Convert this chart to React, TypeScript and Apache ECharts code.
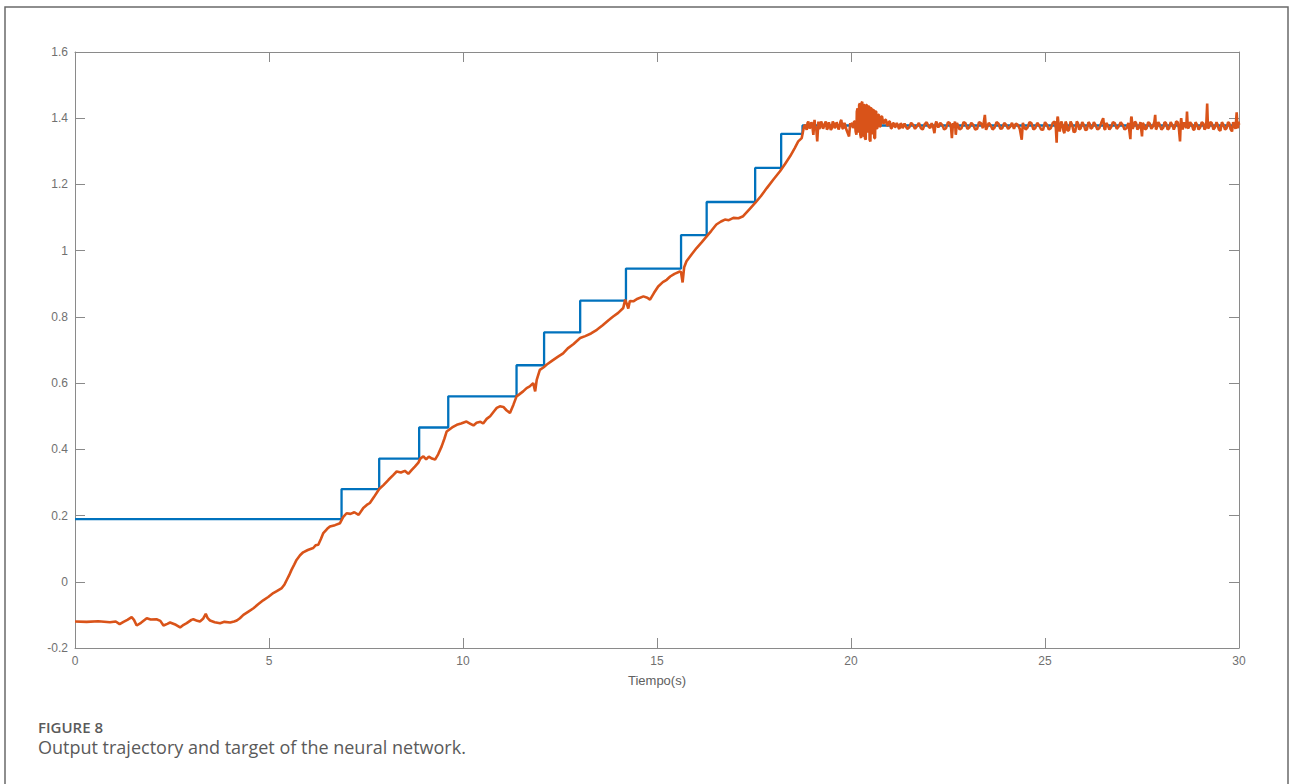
import React, { useEffect, useRef } from "react";
import * as echarts from "echarts";

// Target (blue staircase): time where each level starts, and the level value
const targetTimes = [0, 6.87, 7.84, 8.87, 9.62, 11.38, 12.09, 13.02, 14.2, 15.62, 16.28, 17.53, 18.2, 18.75, 30];
const targetValues = [0.189, 0.28, 0.372, 0.466, 0.56, 0.654, 0.753, 0.849, 0.946, 1.047, 1.147, 1.25, 1.353, 1.378, 1.378];

// Output trajectory (orange), rising part
const outputRise: [number, number][] = [
  [0, -0.12], [0.3, -0.121], [0.6, -0.119], [0.9, -0.122], [1.05, -0.12], [1.15, -0.128], [1.25, -0.121],
  [1.35, -0.115], [1.46, -0.107], [1.52, -0.115], [1.59, -0.132], [1.7, -0.124], [1.85, -0.11], [1.95, -0.114],
  [2.1, -0.113], [2.2, -0.118], [2.28, -0.132], [2.38, -0.127], [2.45, -0.123], [2.6, -0.13], [2.71, -0.138],
  [2.8, -0.13], [2.88, -0.125], [3.0, -0.115], [3.05, -0.113], [3.15, -0.118], [3.22, -0.12], [3.3, -0.112],
  [3.37, -0.097], [3.42, -0.11], [3.48, -0.117], [3.6, -0.122], [3.74, -0.125], [3.85, -0.121], [4.0, -0.123],
  [4.1, -0.12], [4.17, -0.117], [4.25, -0.11], [4.34, -0.1], [4.47, -0.09], [4.6, -0.08], [4.72, -0.068],
  [4.85, -0.056], [4.98, -0.046], [5.11, -0.034], [5.2, -0.028], [5.33, -0.019], [5.4, -0.008], [5.46, 0.006],
  [5.52, 0.02], [5.58, 0.036], [5.65, 0.052], [5.71, 0.066], [5.8, 0.08], [5.88, 0.089], [6.0, 0.096],
  [6.14, 0.102], [6.2, 0.11], [6.27, 0.112], [6.34, 0.13], [6.4, 0.147], [6.5, 0.16], [6.57, 0.167],
  [6.7, 0.171], [6.83, 0.177], [6.91, 0.195], [7.0, 0.207], [7.1, 0.205], [7.2, 0.21], [7.31, 0.202],
  [7.43, 0.223], [7.52, 0.232], [7.6, 0.238], [7.7, 0.255], [7.84, 0.28], [7.95, 0.292], [8.08, 0.308],
  [8.2, 0.322], [8.29, 0.333], [8.4, 0.33], [8.5, 0.335], [8.59, 0.326], [8.68, 0.338], [8.76, 0.348],
  [8.85, 0.36], [8.9, 0.372], [8.98, 0.379], [9.05, 0.37], [9.12, 0.378], [9.2, 0.372], [9.28, 0.369],
  [9.36, 0.385], [9.45, 0.409], [9.52, 0.432], [9.58, 0.454], [9.65, 0.46], [9.72, 0.466], [9.84, 0.474],
  [9.95, 0.478], [10.09, 0.484], [10.18, 0.478], [10.27, 0.472], [10.35, 0.48], [10.45, 0.483], [10.52, 0.478],
  [10.61, 0.492], [10.7, 0.5], [10.8, 0.515], [10.87, 0.525], [10.95, 0.53], [11.04, 0.528], [11.12, 0.518],
  [11.21, 0.51], [11.3, 0.535], [11.38, 0.56], [11.45, 0.566], [11.55, 0.575], [11.64, 0.585], [11.72, 0.59],
  [11.81, 0.6], [11.86, 0.575], [11.9, 0.61], [11.98, 0.64], [12.08, 0.648], [12.16, 0.656], [12.3, 0.668],
  [12.45, 0.68], [12.58, 0.69], [12.7, 0.705], [12.85, 0.718], [13.02, 0.736], [13.15, 0.742], [13.3, 0.75],
  [13.45, 0.761], [13.6, 0.775], [13.75, 0.79], [13.87, 0.801], [14.0, 0.812], [14.13, 0.827], [14.18, 0.852],
  [14.22, 0.84], [14.26, 0.825], [14.3, 0.848], [14.39, 0.847], [14.5, 0.855], [14.65, 0.862], [14.75, 0.858],
  [14.82, 0.852], [14.92, 0.872], [15.03, 0.892], [15.15, 0.905], [15.25, 0.912], [15.34, 0.922], [15.45, 0.93],
  [15.59, 0.937], [15.62, 0.935], [15.66, 0.904], [15.7, 0.95], [15.76, 0.968], [15.9, 0.99], [16.02, 1.008],
  [16.15, 1.025], [16.28, 1.043], [16.4, 1.06], [16.53, 1.079], [16.65, 1.088], [16.75, 1.094], [16.85, 1.092],
  [16.97, 1.099], [17.1, 1.098], [17.22, 1.104], [17.38, 1.125], [17.53, 1.144], [17.68, 1.165], [17.83, 1.189],
  [18.0, 1.215], [18.17, 1.24], [18.3, 1.262], [18.43, 1.285], [18.55, 1.31], [18.64, 1.33], [18.73, 1.34],
  [18.79, 1.376],
];

// Output trajectory (orange), settled noisy part
const outputSteady: [number, number][] = [
  [18.82, 1.38], [18.84, 1.37], [18.86, 1.365], [18.88, 1.386], [18.9, 1.39], [18.93, 1.37], [18.95, 1.372],
  [18.98, 1.388], [19.0, 1.38], [19.03, 1.35], [19.06, 1.395], [19.08, 1.37], [19.1, 1.375], [19.13, 1.33],
  [19.16, 1.39], [19.18, 1.368], [19.2, 1.372], [19.23, 1.39], [19.25, 1.384], [19.28, 1.368], [19.3, 1.375],
  [19.33, 1.385], [19.35, 1.39], [19.38, 1.366], [19.4, 1.37], [19.43, 1.388], [19.45, 1.378], [19.48, 1.365],
  [19.5, 1.368], [19.53, 1.39], [19.55, 1.386], [19.58, 1.37], [19.6, 1.374], [19.63, 1.388], [19.65, 1.38],
  [19.68, 1.366], [19.7, 1.372], [19.73, 1.39], [19.75, 1.395], [19.78, 1.37], [19.8, 1.368], [19.83, 1.386],
  [19.85, 1.38], [19.88, 1.366], [19.9, 1.36], [19.95, 1.345], [19.98, 1.385], [20.0, 1.378], [20.03, 1.386],
  [20.05, 1.37], [20.08, 1.39], [20.1, 1.39], [20.12, 1.36], [20.14, 1.35], [20.15, 1.42], [20.17, 1.43],
  [20.18, 1.36], [20.2, 1.36], [20.21, 1.44], [20.23, 1.445], [20.24, 1.35], [20.26, 1.34], [20.27, 1.445],
  [20.29, 1.45], [20.3, 1.345], [20.32, 1.35], [20.33, 1.44], [20.35, 1.44], [20.36, 1.34], [20.38, 1.335],
  [20.39, 1.44], [20.41, 1.44], [20.42, 1.36], [20.44, 1.36], [20.45, 1.435], [20.47, 1.435], [20.48, 1.335],
  [20.5, 1.33], [20.51, 1.43], [20.53, 1.43], [20.54, 1.355], [20.56, 1.355], [20.57, 1.425], [20.59, 1.425],
  [20.6, 1.34], [20.62, 1.34], [20.63, 1.42], [20.65, 1.42], [20.66, 1.37], [20.68, 1.37], [20.7, 1.41],
  [20.72, 1.41], [20.74, 1.375], [20.76, 1.375], [20.78, 1.405], [20.8, 1.405], [20.83, 1.385], [20.85, 1.385],
  [20.88, 1.395], [20.9, 1.395], [20.93, 1.378], [20.95, 1.378], [20.98, 1.39], [21.0, 1.39], [21.03, 1.37],
  [21.05, 1.37], [21.08, 1.385], [21.1, 1.385], [21.13, 1.374], [21.15, 1.374], [21.18, 1.386], [21.2, 1.38],
  [21.23, 1.37], [21.25, 1.368], [21.28, 1.385], [21.3, 1.382], [21.33, 1.37], [21.35, 1.375], [21.38, 1.384],
  [21.4, 1.378], [21.45, 1.368], [21.5, 1.372], [21.55, 1.386], [21.6, 1.38], [21.65, 1.368], [21.7, 1.376],
  [21.75, 1.386], [21.8, 1.37], [21.85, 1.366], [21.9, 1.382], [21.95, 1.388], [22.0, 1.375], [22.04, 1.37],
  [22.08, 1.385], [22.12, 1.372], [22.15, 1.355], [22.18, 1.384], [22.2, 1.39], [22.25, 1.372], [22.3, 1.386],
  [22.35, 1.38], [22.4, 1.366], [22.45, 1.37], [22.5, 1.388], [22.55, 1.385], [22.58, 1.37], [22.6, 1.34],
  [22.63, 1.385], [22.65, 1.375], [22.68, 1.39], [22.7, 1.35], [22.73, 1.386], [22.75, 1.38], [22.8, 1.366],
  [22.85, 1.37], [22.9, 1.388], [22.95, 1.385], [23.0, 1.368], [23.05, 1.372], [23.1, 1.386], [23.15, 1.38],
  [23.2, 1.366], [23.25, 1.368], [23.3, 1.388], [23.35, 1.385], [23.4, 1.37], [23.45, 1.41], [23.48, 1.365],
  [23.5, 1.37], [23.55, 1.386], [23.6, 1.378], [23.65, 1.366], [23.7, 1.372], [23.75, 1.388], [23.8, 1.384],
  [23.85, 1.368], [23.9, 1.37], [23.95, 1.386], [24.0, 1.38], [24.05, 1.368], [24.1, 1.374], [24.15, 1.386],
  [24.2, 1.368], [24.25, 1.384], [24.3, 1.38], [24.35, 1.368], [24.4, 1.335], [24.43, 1.386], [24.45, 1.378],
  [24.5, 1.366], [24.55, 1.372], [24.6, 1.388], [24.65, 1.385], [24.7, 1.366], [24.75, 1.37], [24.8, 1.386],
  [24.85, 1.378], [24.9, 1.366], [24.95, 1.365], [25.0, 1.388], [25.05, 1.38], [25.1, 1.366], [25.15, 1.37],
  [25.2, 1.386], [25.25, 1.39], [25.28, 1.37], [25.3, 1.326], [25.32, 1.4], [25.33, 1.405], [25.36, 1.37],
  [25.38, 1.36], [25.42, 1.39], [25.45, 1.38], [25.48, 1.36], [25.5, 1.355], [25.53, 1.39], [25.55, 1.385],
  [25.58, 1.362], [25.62, 1.365], [25.66, 1.39], [25.7, 1.38], [25.74, 1.358], [25.78, 1.36], [25.82, 1.39],
  [25.85, 1.385], [25.88, 1.366], [25.92, 1.37], [25.96, 1.388], [26.0, 1.38], [26.04, 1.364], [26.08, 1.366],
  [26.12, 1.388], [26.15, 1.384], [26.18, 1.368], [26.22, 1.372], [26.26, 1.388], [26.3, 1.38], [26.35, 1.366],
  [26.4, 1.37], [26.45, 1.386], [26.5, 1.4], [26.53, 1.368], [26.55, 1.365], [26.58, 1.386], [26.62, 1.378],
  [26.66, 1.366], [26.7, 1.372], [26.75, 1.388], [26.8, 1.385], [26.85, 1.368], [26.9, 1.375], [26.95, 1.388],
  [27.0, 1.38], [27.05, 1.366], [27.1, 1.37], [27.15, 1.386], [27.2, 1.337], [27.22, 1.4], [27.23, 1.405],
  [27.26, 1.368], [27.28, 1.375], [27.32, 1.39], [27.35, 1.385], [27.38, 1.366], [27.42, 1.372], [27.46, 1.388],
  [27.5, 1.345], [27.52, 1.386], [27.55, 1.38], [27.58, 1.366], [27.62, 1.37], [27.66, 1.388], [27.7, 1.384],
  [27.74, 1.368], [27.78, 1.375], [27.82, 1.39], [27.84, 1.41], [27.86, 1.366], [27.88, 1.37], [27.92, 1.388],
  [27.95, 1.382], [28.0, 1.366], [28.05, 1.372], [28.08, 1.388], [28.12, 1.385], [28.16, 1.366], [28.2, 1.37],
  [28.24, 1.388], [28.28, 1.38], [28.32, 1.366], [28.35, 1.375], [28.38, 1.39], [28.42, 1.388], [28.45, 1.37],
  [28.48, 1.33], [28.5, 1.39], [28.51, 1.4], [28.54, 1.366], [28.56, 1.372], [28.59, 1.388], [28.62, 1.38],
  [28.64, 1.37], [28.66, 1.42], [28.68, 1.372], [28.7, 1.37], [28.74, 1.388], [28.78, 1.382], [28.82, 1.366],
  [28.85, 1.365], [28.88, 1.388], [28.92, 1.38], [28.96, 1.366], [29.0, 1.372], [29.04, 1.388], [29.08, 1.384],
  [29.11, 1.366], [29.14, 1.37], [29.16, 1.39], [29.18, 1.444], [29.2, 1.372], [29.22, 1.37], [29.26, 1.388],
  [29.3, 1.385], [29.34, 1.366], [29.38, 1.372], [29.42, 1.388], [29.45, 1.38], [29.48, 1.366], [29.52, 1.362],
  [29.56, 1.388], [29.6, 1.38], [29.64, 1.366], [29.68, 1.37], [29.72, 1.388], [29.75, 1.385], [29.78, 1.368],
  [29.82, 1.36], [29.85, 1.388], [29.88, 1.38], [29.91, 1.368], [29.94, 1.418], [29.96, 1.372], [29.97, 1.37],
  [29.99, 1.39], [30.0, 1.38],
];

const xTicks = { min: 0, max: 30, interval: 5 };
const yTicks = { min: -0.2, max: 1.6, interval: 0.2 };
const xAxisName = "Tiempo(s)";
const figureLabel = "FIGURE 8";
const figureCaption = "Output trajectory and target of the neural network.";

export default function App() {
  const ref = useRef<HTMLDivElement>(null);
  useEffect(() => {
    if (!ref.current) return;
    const chart = echarts.init(ref.current, undefined, { renderer: "svg" });
    const axisColor = "#8a8a8a";
    const labelStyle = { color: "#707070", fontSize: 12, fontFamily: "Liberation Sans, Arial, sans-serif" };
    const commonAxis = {
      type: "value" as const,
      axisLine: { show: true, onZero: false, lineStyle: { color: axisColor, width: 1 } },
      axisTick: { show: true, inside: true, length: 10, lineStyle: { color: axisColor, width: 1 } },
      splitLine: { show: false },
    };
    const fmt = (v: number) => String(+v.toFixed(1));
    chart.setOption({
      animation: false,
      backgroundColor: "#ffffff",
      grid: { left: 75, right: 51, top: 52, bottom: 136 },
      xAxis: [
        {
          ...commonAxis,
          ...xTicks,
          position: "bottom",
          name: xAxisName,
          nameLocation: "middle",
          nameGap: 26,
          nameTextStyle: { color: "#606060", fontSize: 13, fontFamily: "Liberation Sans, Arial, sans-serif" },
          axisLabel: { ...labelStyle, margin: 7, formatter: fmt },
        },
        { ...commonAxis, ...xTicks, position: "top", axisLabel: { show: false } },
      ],
      yAxis: [
        {
          ...commonAxis,
          ...yTicks,
          position: "left",
          axisLabel: { ...labelStyle, margin: 7, formatter: fmt },
        },
        { ...commonAxis, ...yTicks, position: "right", axisLabel: { show: false } },
      ],
      series: [
        {
          type: "line",
          name: "target",
          step: "end",
          data: targetTimes.map((t, i) => [t, targetValues[i]]),
          showSymbol: false,
          lineStyle: { color: "#0072BD", width: 2.3 },
          z: 2,
        },
        {
          type: "line",
          name: "output",
          data: [...outputRise, ...outputSteady],
          showSymbol: false,
          lineStyle: { color: "#D95319", width: 2.6 },
          z: 3,
        },
      ],
      graphic: [
        {
          type: "rect",
          shape: { x: 5, y: 7, width: 1283, height: 840 },
          style: { fill: "none", stroke: "#6a6a6a", lineWidth: 1.5 },
          silent: true,
        },
        {
          type: "text",
          x: 38,
          y: 719,
          style: {
            text: figureLabel,
            font: "600 15px 'Open Sans', sans-serif",
            fill: "#5a5a5a",
          },
        },
        {
          type: "text",
          x: 38,
          y: 738,
          style: {
            text: figureCaption,
            font: "18px 'Open Sans', sans-serif",
            fill: "#5a5a5a",
          },
        },
      ],
    });
    return () => chart.dispose();
  }, []);
  return (
    <div
      ref={ref}
      style={{ position: "absolute", left: 0, top: 0, width: 1290, height: 784, background: "#fff" }}
    />
  );
}
